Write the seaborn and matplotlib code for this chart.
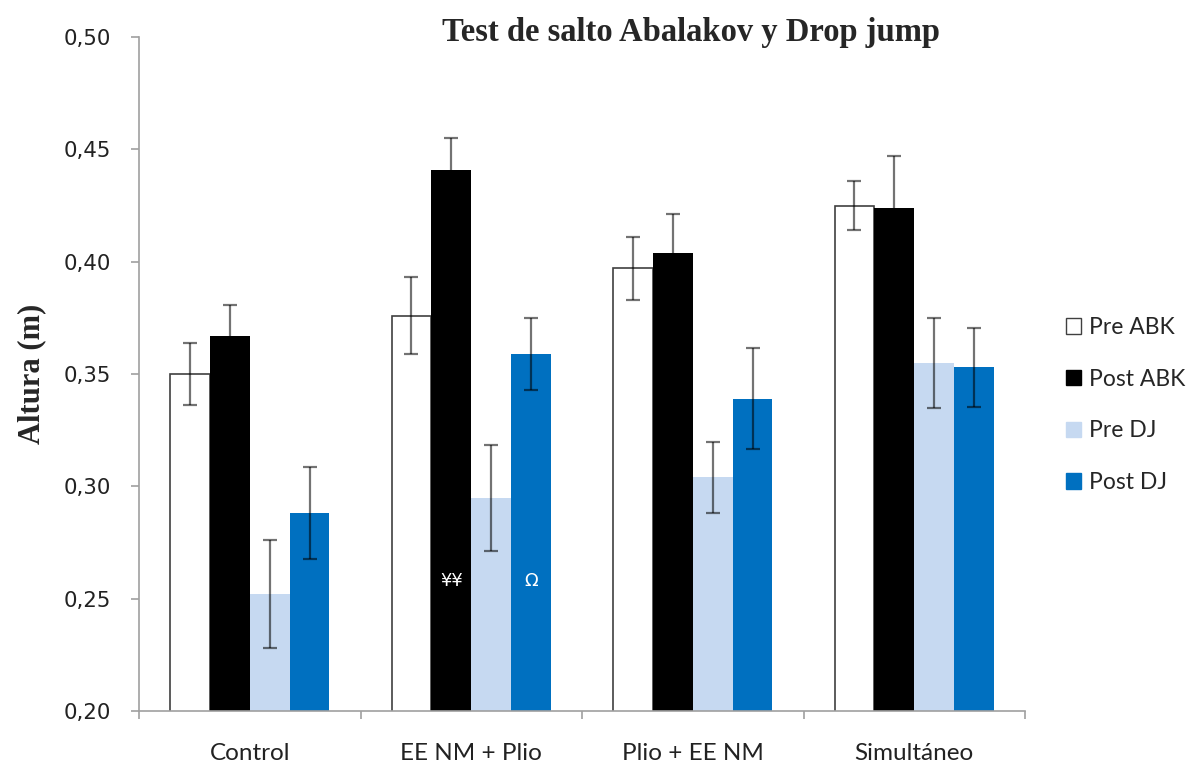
import matplotlib
matplotlib.use("Agg")
import matplotlib.pyplot as plt
import seaborn as sns
import pandas as pd
import numpy as np
from matplotlib.patches import Patch

categories = ["Control", "EE NM + Plio", "Plio + EE NM", "Simultáneo"]
series = ["Pre ABK", "Post ABK", "Pre DJ", "Post DJ"]
pre_abk = [0.350, 0.376, 0.397, 0.425]
post_abk = [0.367, 0.441, 0.404, 0.424]
pre_dj = [0.252, 0.295, 0.304, 0.355]
post_dj = [0.288, 0.359, 0.339, 0.353]
err_pre_abk = [0.014, 0.017, 0.014, 0.011]
err_post_abk = [0.0135, 0.014, 0.017, 0.023]
err_pre_dj = [0.024, 0.0236, 0.0157, 0.020]
err_post_dj = [0.0205, 0.016, 0.0225, 0.0175]
y_ticks = [0.20, 0.25, 0.30, 0.35, 0.40, 0.45, 0.50]
y_tick_labels = ["0,20", "0,25", "0,30", "0,35", "0,40", "0,45", "0,50"]

colors = ["#FFFFFF", "#000000", "#C6D9F1", "#0070C0"]

values = [pre_abk, post_abk, pre_dj, post_dj]
errors = [err_pre_abk, err_post_abk, err_pre_dj, err_post_dj]
df = pd.DataFrame({
    "Grupo": [c for s in series for c in categories],
    "Serie": [s for s in series for c in categories],
    "Altura": [v for vals in values for v in vals],
})

sns.set_style("white")
fig = plt.figure(figsize=(11.92, 7.65), dpi=100)
ax = fig.add_axes([139 / 1192, 1 - 711 / 765, (1025 - 139) / 1192, (711 - 37) / 765])

sns.barplot(data=df, x="Grupo", y="Altura", hue="Serie", order=categories,
            hue_order=series, palette=colors, width=0.72, gap=0,
            errorbar=None, ax=ax, legend=False, saturation=1)

bar_containers = list(ax.containers)
for i, cont in enumerate(bar_containers):
    for j, bar in enumerate(cont.patches):
        if i == 0:
            bar.set_edgecolor("#404040")
            bar.set_linewidth(1.2)
        else:
            bar.set_edgecolor("none")
            bar.set_linewidth(0)
        cx = bar.get_x() + bar.get_width() / 2
        ax.errorbar(cx, bar.get_height(), yerr=errors[i][j], fmt="none",
                    ecolor="black", alpha=0.55, elinewidth=1.6, capsize=5,
                    capthick=1.6, zorder=5)

ax.set_ylim(0.20, 0.50)
ax.set_xlim(-0.5, 3.5)
ax.set_yticks(y_ticks)
ax.set_yticklabels(y_tick_labels, fontsize=15.3, family="DejaVu Sans", color="#222222")
ax.set_xticks(range(len(categories)))
ax.set_xticklabels(categories, fontsize=17.5, family="Lato", color="#222222")
ax.set_xticks(np.arange(-0.5, 4.0, 1.0), minor=True)
ax.tick_params(axis="x", which="major", length=0, pad=23, bottom=False)
ax.tick_params(axis="x", which="minor", length=6, color="#A0A0A0", width=1.2,
               direction="out", bottom=True)
ax.tick_params(axis="y", which="major", length=5.5, color="#A0A0A0", width=1.2,
               direction="out", pad=14.5, left=True)

for side in ["top", "right"]:
    ax.spines[side].set_visible(False)
for side in ["left", "bottom"]:
    ax.spines[side].set_color("#A0A0A0")
    ax.spines[side].set_linewidth(1.2)

ax.set_xlabel("")
ax.set_ylabel("Altura (m)", fontsize=22, fontweight="bold", family="Liberation Serif")
ax.yaxis.set_label_coords(-0.105, 0.5)

fig.text(0.58, 0.957, "Test de salto Abalakov y Drop jump", fontsize=23.5, fontweight="bold",
         family="Liberation Serif", ha="center", va="center")

# significance markers
ax.text(1 - 0.09, 0.258, "¥¥", color="white", fontsize=13, ha="center", va="center", family="DejaVu Sans")
ax.text(1 + 0.27, 0.258, "Ω", color="white", fontsize=13, ha="center", va="center", family="DejaVu Sans")

handles = [Patch(facecolor=c, edgecolor=("#404040" if k == 0 else c), linewidth=1.0)
           for k, c in enumerate(colors)]
leg = fig.legend(handles, series, loc="center left", bbox_to_anchor=(1066 / 1192, 1 - 405 / 765),
                 frameon=False, prop={"family": "Lato", "size": 16.5}, borderpad=0,
                 borderaxespad=0,
                 handlelength=0.65, handleheight=0.65, handletextpad=0.35, labelspacing=1.34)

fig.savefig("out.png", dpi=100)
